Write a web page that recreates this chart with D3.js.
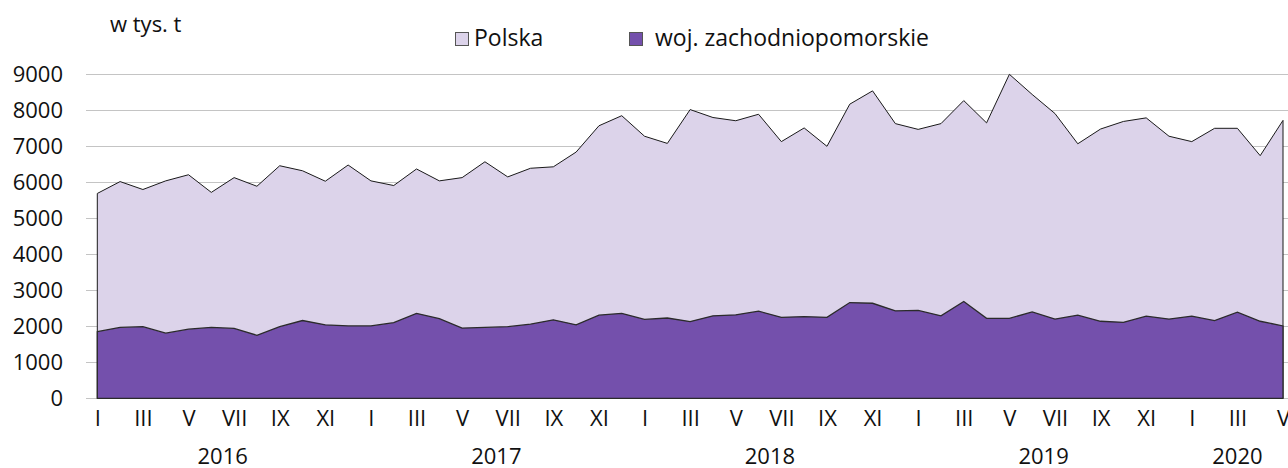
<!DOCTYPE html>
<html>
<head>
<meta charset="utf-8">
<script src="https://cdn.jsdelivr.net/npm/d3@7"></script>
<style>
  body { margin: 0; background: #fff; }
  svg { display: block; font-family: "Open Sans", sans-serif; }
</style>
</head>
<body>
<svg id="chart" width="1288" height="468"></svg>
<script>
// miesiace I 2016 - V 2020
var years = [2016, 2017, 2018, 2019, 2020];
var romans = ['I', 'II', 'III', 'IV', 'V', 'VI', 'VII', 'VIII', 'IX', 'X', 'XI', 'XII'];

// Polska (w tys. t)
var polska = [5690, 6020, 5800, 6040, 6210, 5720, 6130, 5890, 6460, 6320, 6030, 6480,
  6040, 5910, 6370, 6040, 6130, 6570, 6150, 6390, 6430, 6840, 7570, 7850,
  7280, 7080, 8020, 7800, 7710, 7890, 7130, 7510, 7000, 8170, 8540, 7630,
  7470, 7630, 8270, 7650, 9000, 8440, 7910, 7070, 7480, 7690, 7790, 7280,
  7130, 7500, 7500, 6740, 7720];

// woj. zachodniopomorskie (w tys. t)
var zachpom = [1850, 1970, 1990, 1810, 1920, 1970, 1940, 1750, 1990, 2160, 2040, 2010,
  2010, 2100, 2360, 2210, 1950, 1970, 1990, 2060, 2180, 2040, 2310, 2360,
  2190, 2230, 2130, 2290, 2320, 2420, 2250, 2270, 2250, 2660, 2640, 2430,
  2440, 2290, 2690, 2220, 2220, 2400, 2200, 2310, 2140, 2110, 2280, 2200,
  2280, 2160, 2390, 2140, 2010];

var yTicks = [0, 1000, 2000, 3000, 4000, 5000, 6000, 7000, 8000, 9000];

var svg = d3.select('#chart');
var n = polska.length;

var x = d3.scaleLinear().domain([0, n - 1]).range([97.3, 1283]);
var y = d3.scaleLinear().domain([0, 9000]).range([398.3, 74.3]);

var lightFill = '#dcd3ea',
    darkFill = '#7450ac';

// siatka
svg.append('g')
  .selectAll('line')
  .data(yTicks)
  .enter()
  .append('line')
  .attr('x1', 86).attr('x2', 1288)
  .attr('y1', d => Math.round(y(d)) + 0.5)
  .attr('y2', d => Math.round(y(d)) + 0.5)
  .attr('stroke', '#c4c4c4')
  .attr('stroke-width', 1.2);

// os Y
svg.append('g')
  .selectAll('text')
  .data(yTicks)
  .enter()
  .append('text')
  .attr('x', 63)
  .attr('y', d => y(d))
  .attr('dy', '0.35em')
  .attr('text-anchor', 'end')
  .attr('font-size', 22)
  .attr('fill', '#111')
  .text(d => d);

var area = function(data) {
  return d3.area()
    .x((d, i) => x(i))
    .y0(y(0))
    .y1(d => y(d))(data);
};

svg.append('path')
  .attr('d', area(polska))
  .attr('fill', lightFill)
  .attr('stroke', '#1a1a1a')
  .attr('stroke-width', 1)
  .attr('stroke-linejoin', 'miter');

svg.append('path')
  .attr('d', area(zachpom))
  .attr('fill', darkFill)
  .attr('stroke', '#2b2b2b')
  .attr('stroke-width', 1.3);

// os X - miesiace
var xAxis = d3.axisBottom(x)
  .tickValues(d3.range(0, n, 2))
  .tickSize(0)
  .tickPadding(0)
  .tickFormat(d => romans[d % 12]);

var gx = svg.append('g')
  .attr('transform', 'translate(0,' + 413 + ')')
  .call(xAxis);
gx.select('.domain').remove();
gx.selectAll('text')
  .attr('font-size', 22)
  .attr('font-family', '"Open Sans", sans-serif')
  .attr('fill', '#111')
  .attr('dy', '0.6em');

// lata
svg.append('g')
  .selectAll('text')
  .data(years)
  .enter()
  .append('text')
  .attr('x', (d, k) => {
    var first = k * 12;
    var last = Math.min(first + 11, n - 1);
    return (x(first) + x(last)) / 2;
  })
  .attr('y', 464)
  .attr('text-anchor', 'middle')
  .attr('font-size', 22)
  .attr('fill', '#111')
  .text(d => d);

// jednostka
svg.append('text')
  .attr('x', 110)
  .attr('y', 24)
  .attr('dy', '0.35em')
  .attr('font-size', 22)
  .attr('fill', '#111')
  .text('w tys. t');

// legenda
var legend = [
  {name: 'Polska', fill: lightFill, x: 455},
  {name: 'woj. zachodniopomorskie', fill: darkFill, x: 629}
];
var lg = svg.append('g')
  .selectAll('g')
  .data(legend)
  .enter()
  .append('g')
  .attr('transform', d => 'translate(' + d.x + ',0)');
lg.append('rect')
  .attr('x', 0.5).attr('y', 32.5)
  .attr('width', 13).attr('height', 13)
  .attr('fill', d => d.fill)
  .attr('stroke', '#555')
  .attr('stroke-width', 1);
lg.append('text')
  .attr('x', (d, i) => i === 0 ? 19 : 26)
  .attr('y', 38)
  .attr('dy', '0.35em')
  .attr('font-size', 23)
  .attr('fill', '#111')
  .text(d => d.name);
</script>
</body>
</html>
